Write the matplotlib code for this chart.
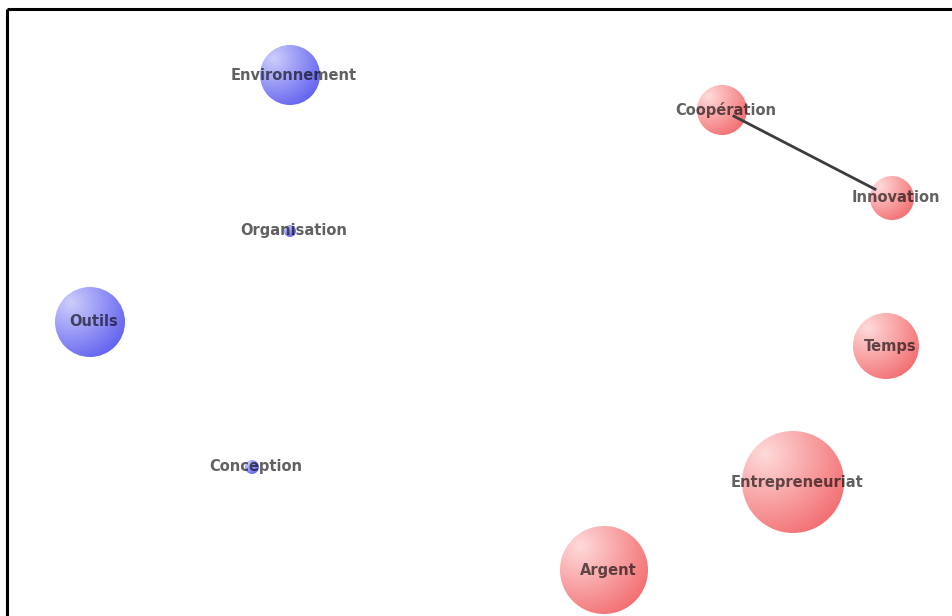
import matplotlib.pyplot as plt
import numpy as np
from matplotlib.patches import Circle

# Noeuds du graphe (position de mise en page, rayon, groupe)
noms = ["Environnement", "Organisation", "Outils", "Conception",
        "Coopération", "Innovation", "Temps", "Entrepreneuriat", "Argent"]
pos_x = [290, 290, 90, 252, 722, 892, 886, 793, 604]
pos_y = [75, 231, 322, 467, 110, 198, 346, 482, 570]
rayons = [30, 6, 35, 7, 25, 22, 33, 51, 44]
groupes = ["bleu", "bleu", "bleu", "bleu", "rouge", "rouge", "rouge", "rouge", "rouge"]

# Liens
liens = [("Coopération", "Innovation")]

couleurs = {
    "bleu": (np.array([205, 205, 252]) / 255, np.array([80, 80, 238]) / 255),
    "rouge": (np.array([255, 218, 218]) / 255, np.array([240, 92, 96]) / 255),
}

fig = plt.figure(figsize=(9.53, 6.16), dpi=100)
ax = fig.add_axes([0, 0, 1, 1])
ax.set_xlim(0, 953)
ax.set_ylim(616, 0)
ax.axis("off")

# Cadre (haut et gauche seulement)
ax.plot([7.5, 953], [9, 9], color="black", lw=2.2, solid_capstyle="butt")
ax.plot([7.5, 7.5], [9, 616], color="black", lw=2.2, solid_capstyle="butt")


def cercle_degrade(cx, cy, r, groupe):
    clair, fonce = couleurs[groupe]
    n = 100
    g = np.linspace(-1, 1, n)
    xx, yy = np.meshgrid(g, g)
    # point lumineux en haut a gauche
    d = np.sqrt((xx + 0.55) ** 2 + (yy + 0.55) ** 2) / 2.1
    d = np.clip(d, 0, 1)
    img = clair[None, None, :] * (1 - d[..., None]) + fonce[None, None, :] * d[..., None]
    im = ax.imshow(img, extent=(cx - r, cx + r, cy + r, cy - r), zorder=2,
                   interpolation="bilinear")
    c = Circle((cx, cy), r, transform=ax.transData, facecolor="none", edgecolor="none")
    ax.add_patch(c)
    im.set_clip_path(c)


for x, y, r, gr in zip(pos_x, pos_y, rayons, groupes):
    cercle_degrade(x, y, r, gr)

# Liens par-dessus les cercles
for a, b in liens:
    i, j = noms.index(a), noms.index(b)
    p1 = np.array([pos_x[i], pos_y[i]], dtype=float)
    p2 = np.array([pos_x[j], pos_y[j]], dtype=float)
    s = p1 + 0.07 * (p2 - p1)
    e = p1 + 0.90 * (p2 - p1)
    ax.plot([s[0], e[0]], [s[1], e[1]], color="#3c3c3c", lw=2, zorder=3)

for nom, x, y in zip(noms, pos_x, pos_y):
    ax.text(x + 4, y, nom, ha="center", va="center", fontsize=10.5,
            fontweight="bold", color="black", alpha=0.62, zorder=4,
            family="DejaVu Sans")

ax.set_aspect("auto")
fig.savefig("out.png", dpi=100)
